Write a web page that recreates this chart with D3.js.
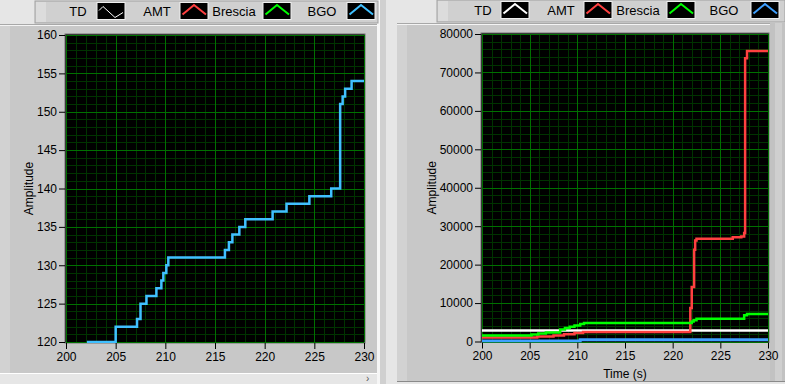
<!DOCTYPE html>
<html><head><meta charset="utf-8">
<script src="https://cdn.jsdelivr.net/npm/d3@7"></script>
<style>body{margin:0;background:#e6e6e6;}svg{display:block;font-family:"Liberation Sans",Arial,sans-serif;}</style>
</head><body><svg id="c" width="785" height="384"></svg>
<script>
// ---- data ----
const xTicks = [200, 205, 210, 215, 220, 225, 230];
const leftYTicks = [120, 125, 130, 135, 140, 145, 150, 155, 160];
const rightYTicks = [0, 10000, 20000, 30000, 40000, 50000, 60000, 70000, 80000];
const seriesNames = ["TD", "AMT", "Brescia", "BGO"];
const seriesColors = ["#ffffff", "#ff4040", "#00ff00", "#3fa0ff"];
const leftBgoColor = "#40c0ff";

// left panel: BGO amplitude steps [time, value]
const bgoLeft = [[202.1,120],[205.0,122],[207.15,123],[207.5,125],[208.1,126],[209.1,127],[209.6,128],[209.8,129],[210.1,130],[210.3,131],[216.0,132],[216.4,133],[216.75,134],[217.45,135],[218.05,136],[220.8,137],[222.2,138],[224.5,139],[226.7,140],[227.6,151],[227.85,152],[228.1,153],[228.75,154],[230,154]];

// right panel series
const tdRight = [[200,2850],[230,2850]];
const amtRight = [[200,1050],[205.8,1300],[207.5,1560],[208.6,1900],[209.7,2200],[210.6,2450],[221.85,8700],[222.0,14200],[222.25,23900],[222.36,26260],[222.5,26700],[226.3,27100],[227.2,27300],[227.5,28250],[227.6,73700],[227.8,75600],[230,75600]];
const bresciaRight = [[200,1560],[205.2,1830],[205.9,2090],[206.7,2350],[208.2,3130],[208.7,3480],[209.2,3830],[209.7,4170],[210.3,4530],[210.7,4800],[222.0,5200],[222.2,5500],[222.5,5900],[227.5,6800],[227.8,7150],[230,7150]];
const bgoRight = [[200,150],[210.3,450],[230,450]];

const svg = d3.select("#c");

// ---- chrome ----
function panel(x, y, w, h) {
  svg.append("rect").attr("x", x).attr("y", y).attr("width", w).attr("height", h).attr("fill", "#c8c8c8");
  svg.append("rect").attr("x", x).attr("y", y).attr("width", 10).attr("height", h).attr("fill", "#d2d2d2");
  svg.append("line").attr("x1", x).attr("x2", x + w).attr("y1", y + 0.5).attr("y2", y + 0.5).attr("stroke", "#a8a8a8");
  svg.append("line").attr("x1", x).attr("x2", x + w).attr("y1", y + 1.5).attr("y2", y + 1.5).attr("stroke", "#f4f4f4");
}
panel(0, 24, 378, 349);
svg.append("line").attr("x1", 0).attr("x2", 378).attr("y1", 373.5).attr("y2", 373.5).attr("stroke", "#ffffff");
svg.append("rect").attr("x", 377).attr("y", 0).attr("width", 3).attr("height", 384).attr("fill", "#f6f6f6");
svg.append("rect").attr("x", 380).attr("y", 0).attr("width", 6).attr("height", 384).attr("fill", "#d0d0d0");
panel(397, 23, 388, 358);
svg.append("rect").attr("x", 770).attr("y", 23).attr("width", 15).attr("height", 358).attr("fill", "#c2c2c2");
svg.append("rect").attr("x", 775).attr("y", 23).attr("width", 7).attr("height", 358).attr("fill", "#cfcfcf");
svg.append("line").attr("x1", 397).attr("x2", 785).attr("y1", 381.5).attr("y2", 381.5).attr("stroke", "#8a8a8a");
svg.append("text").attr("x", 366).attr("y", 382).attr("font-size", 10).attr("fill", "#555").text("›");

// legends
function legend(x0, x1, y0, y1, textX, swX, thinTD) {
  svg.append("rect").attr("x", x0).attr("y", y0).attr("width", x1 - x0).attr("height", y1 - y0).attr("fill", "#d0d0d0").attr("stroke", "#a0a0a0");
  svg.append("rect").attr("x", x0 + 1).attr("y", y0 + 1).attr("width", 10).attr("height", y1 - y0 - 2).attr("fill", "#dcdcdc");
  seriesNames.forEach((n, i) => {
    svg.append("text").attr("x", textX[i]).attr("y", y0 + 15).attr("font-size", 13).attr("text-anchor", "middle").attr("fill", "#000").text(n);
    const sx = swX[i], sy = y0 + 1.5;
    svg.append("rect").attr("x", sx).attr("y", sy).attr("width", 28).attr("height", 17).attr("fill", "#000").attr("stroke", "#f0f0f0");
    let pts = [[sx + 2.5, sy + 12], [sx + 14, sy + 2.5], [sx + 26, sy + 12]];
    let sw = 2;
    if (thinTD && i === 0) { pts = [[sx + 2, sy + 8], [sx + 6, sy + 4], [sx + 18, sy + 15], [sx + 26, sy + 10]]; sw = 1; }
    svg.append("path").attr("d", d3.line()(pts)).attr("fill", "none").attr("stroke", (thinTD && i === 3) ? leftBgoColor : seriesColors[i]).attr("stroke-width", sw);
  });
}
legend(35, 378, 1, 23, [78, 157, 234, 322], [97, 180, 263, 347], true);
legend(437, 785, 0, 22, [483, 561, 638, 724], [501, 584, 667, 751], false);

// ---- plots ----
function plot(cfg) {
  const x = d3.scaleLinear().domain([200, 230]).range([cfg.left, cfg.right]);
  const y = d3.scaleLinear().domain(cfg.yDomain).range([cfg.bottom, cfg.top]);
  const g = svg.append("g");
  g.append("rect").attr("x", cfg.left - 1).attr("y", cfg.top - 1).attr("width", cfg.right - cfg.left + 2).attr("height", cfg.bottom - cfg.top + 2).attr("fill", "#000").attr("stroke", "#707070");
  // minor grid
  d3.range(201, 230, 1).filter(v => v % 5 !== 0).forEach(v => {
    g.append("line").attr("x1", Math.round(x(v)) + 0.5).attr("x2", Math.round(x(v)) + 0.5).attr("y1", cfg.top).attr("y2", cfg.bottom).attr("stroke", "#003300");
  });
  d3.range(cfg.yDomain[0], cfg.yDomain[1], cfg.minorY).filter(v => (v - cfg.yDomain[0]) % cfg.majorY !== 0).forEach(v => {
    g.append("line").attr("y1", Math.round(y(v)) + 0.5).attr("y2", Math.round(y(v)) + 0.5).attr("x1", cfg.left).attr("x2", cfg.right).attr("stroke", "#003300");
  });
  // major grid
  xTicks.forEach(v => {
    g.append("line").attr("x1", Math.round(x(v)) + 0.5).attr("x2", Math.round(x(v)) + 0.5).attr("y1", cfg.top).attr("y2", cfg.bottom).attr("stroke", "#007000");
  });
  cfg.yTicks.forEach(v => {
    g.append("line").attr("y1", Math.round(y(v)) + 0.5).attr("y2", Math.round(y(v)) + 0.5).attr("x1", cfg.left).attr("x2", cfg.right).attr("stroke", "#007000");
  });
  // axes
  const ya = g.append("g").attr("transform", `translate(${cfg.left - 1},0)`).call(d3.axisLeft(y).tickValues(cfg.yTicks).tickSize(6).tickPadding(2).tickFormat(d3.format("d")));
  const xa = g.append("g").attr("transform", `translate(0,${cfg.bottom + 1})`).call(d3.axisBottom(x).tickValues(xTicks).tickSize(6).tickPadding(3).tickFormat(d3.format("d")));
  [ya, xa].forEach(a => {
    a.select(".domain").remove();
    a.selectAll("line").attr("stroke", "#000");
    a.selectAll("text").attr("font-size", 12).attr("fill", "#000").attr("font-family", "Liberation Sans, Arial, sans-serif");
  });
  // clip
  const id = "clip" + cfg.left;
  svg.append("clipPath").attr("id", id).append("rect").attr("x", cfg.left - 1).attr("y", cfg.top - 2).attr("width", cfg.right - cfg.left + 2).attr("height", cfg.bottom - cfg.top + 3);
  const line = d3.line().x(d => x(d[0])).y(d => y(d[1])).curve(d3.curveStepAfter);
  const lg = svg.append("g").attr("clip-path", `url(#${id})`);
  cfg.series.forEach(s => {
    lg.append("path").attr("d", line(s.data)).attr("fill", "none").attr("stroke", s.color).attr("stroke-width", s.width);
  });
  svg.append("text").attr("transform", `translate(${cfg.ylabelX},${(cfg.top + cfg.bottom) / 2}) rotate(-90)`).attr("text-anchor", "middle").attr("font-size", 12).attr("fill", "#000").text("Amplitude");
  if (cfg.xlabel) svg.append("text").attr("x", (cfg.left + cfg.right) / 2).attr("y", 378).attr("text-anchor", "middle").attr("font-size", 12).attr("fill", "#000").text(cfg.xlabel);
}

plot({left: 66, right: 364, top: 35, bottom: 342, yDomain: [120, 160], yTicks: leftYTicks, minorY: 1, majorY: 5, ylabelX: 33,
  series: [{data: bgoLeft, color: leftBgoColor, width: 2.5}]});
plot({left: 482, right: 768, top: 34, bottom: 341.5, yDomain: [0, 80000], yTicks: rightYTicks, minorY: 2000, majorY: 10000, ylabelX: 436, xlabel: "Time (s)",
  series: [
    {data: bgoRight, color: seriesColors[3], width: 3},
    {data: tdRight, color: seriesColors[0], width: 2.5},
    {data: amtRight, color: seriesColors[1], width: 2.5},
    {data: bresciaRight, color: seriesColors[2], width: 2.5}
  ]});
</script></body></html>
